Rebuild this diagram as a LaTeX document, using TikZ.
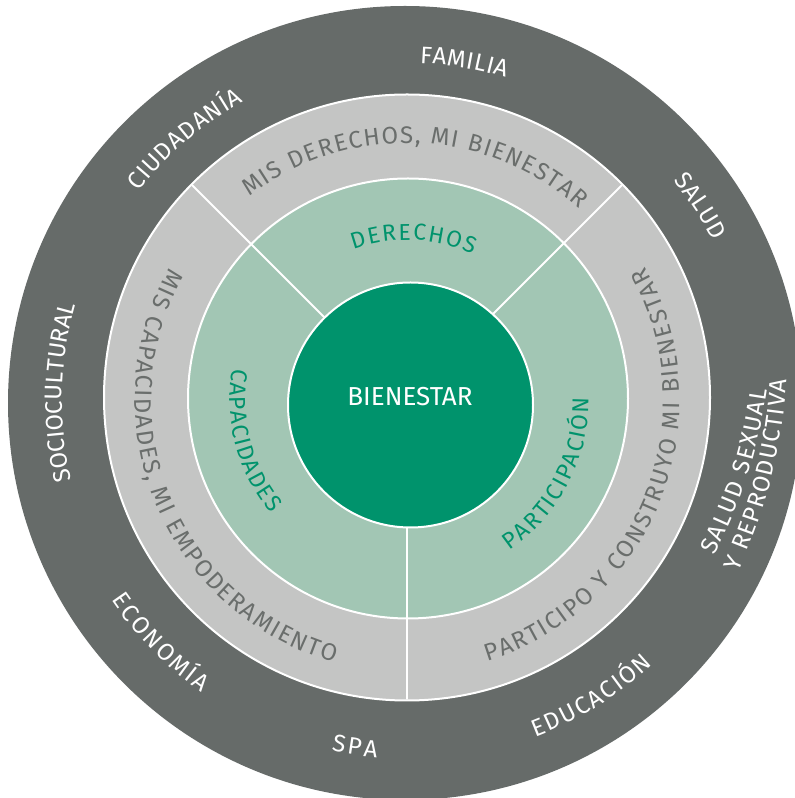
\documentclass[tikz,border=0pt]{standalone}
\usepackage{fontspec}
\setmainfont{Fira Sans}
\newfontfamily\hand{Fira Sans}
\usetikzlibrary{decorations.text}
\definecolor{ringdark}{HTML}{666B69}
\definecolor{ringgray}{HTML}{C4C5C4}
\definecolor{ringgreen}{HTML}{A2C6B4}
\definecolor{coregreen}{HTML}{00936C}
\definecolor{txtgray}{HTML}{6A6E6C}
\newcommand\fw{\hand\fontsize{24}{28}\selectfont\color{white}}
\newcommand\fg{\hand\fontsize{24}{28}\selectfont\color{txtgray}}
\newcommand\fgr{\hand\fontsize{23}{28}\selectfont\color{coregreen}}
% #1 format, #2 text, #3 radius, #4 start angle, #5 end angle
\newcommand\ringtext[5]{%
  \path[decorate, decoration={text along path, text={|#1|#2},
        text align={fit to path}, raise=-8pt}]
    ([shift={(#4:#3)}]C) arc[start angle=#4, end angle=#5, radius=#3];}
\tikzset{
  sep/.style={white, line width=2pt},
}
\begin{document}
\begin{tikzpicture}[x=1pt,y=1pt]
\useasboundingbox (0,0) rectangle (795,798);
\clip (0,0) rectangle (795,798);
\fill[white] (0,0) rectangle (795,798);
\coordinate (C) at (407,398);
\coordinate (Cd) at (405,395);
\coordinate (Cg) at (407,400.5);
\coordinate (Cl) at (408,399.5);
\coordinate (Ci) at (410.5,393);
% rings
\fill[ringdark] (Cd) circle[radius=397];
\draw[sep, fill=ringgray] (Cg) circle[radius=303];
\draw[sep, fill=ringgreen] (Cl) circle[radius=220];
\begin{scope}
  \clip (Cg) circle[radius=302];
  \draw[sep] (C) -- ++(45:320);
  \draw[sep] (C) -- ++(135:320);
  \draw[sep] (C) -- ++(270:320);
\end{scope}
\draw[sep, fill=coregreen] (Ci) circle[radius=122.5];
\node[font=\hand\fontsize{26}{30}\selectfont, text=white] (core) at (410,401) {BIENESTAR};
% outer ring labels
\ringtext{\fw}{FAMILIA}{345}{87.8}{73}
\ringtext{\fw}{SALUD}{353}{39.5}{27.5}
\ringtext{\fw}{CIUDADANÍA}{348}{142.2}{118.7}
\ringtext{\fw}{SOCIOCULTURAL}{353}{193.5}{164}
\ringtext{\fw}{ECONOMÍA}{349}{214}{235}
\ringtext{\fw}{SPA}{351}{257.8}{265.2}
\ringtext{\fw}{EDUCACIÓN}{353}{290.8}{313}
\coordinate (s1a) at (707,246);
\coordinate (s1b) at (759,410);
\coordinate (s2a) at (731,229);
\coordinate (s2b) at (779,419);
\path[decorate, decoration={text along path, text={|\fw|SALUD SEXUAL},
      text align={fit to path}, raise=-8pt}] (s1a) to[bend right=9] (s1b);
\path[decorate, decoration={text along path, text={|\fw|Y REPRODUCTIVA},
      text align={fit to path}, raise=-8pt}] (s2a) to[bend right=9] (s2b);
% gray ring labels
\ringtext{\fg}{MIS DERECHOS, MI BIENESTAR}{265}{127.8}{48}
\ringtext{\fg}{MIS CAPACIDADES, MI EMPODERAMIENTO}{264}{150.8}{254.6}
\ringtext{\fg}{PARTICIPO Y CONSTRUYO MI BIENESTAR}{265}{-73}{29.3}
% green ring labels
\ringtext{\fgr}{DERECHOS}{168}{109.5}{65.8}
\ringtext{\fgr}{CAPACIDADES}{169}{169.5}{219.8}
\ringtext{\fgr}{PARTICIPACIÓN}{174}{-55.8}{0.9}
\end{tikzpicture}
\end{document}
